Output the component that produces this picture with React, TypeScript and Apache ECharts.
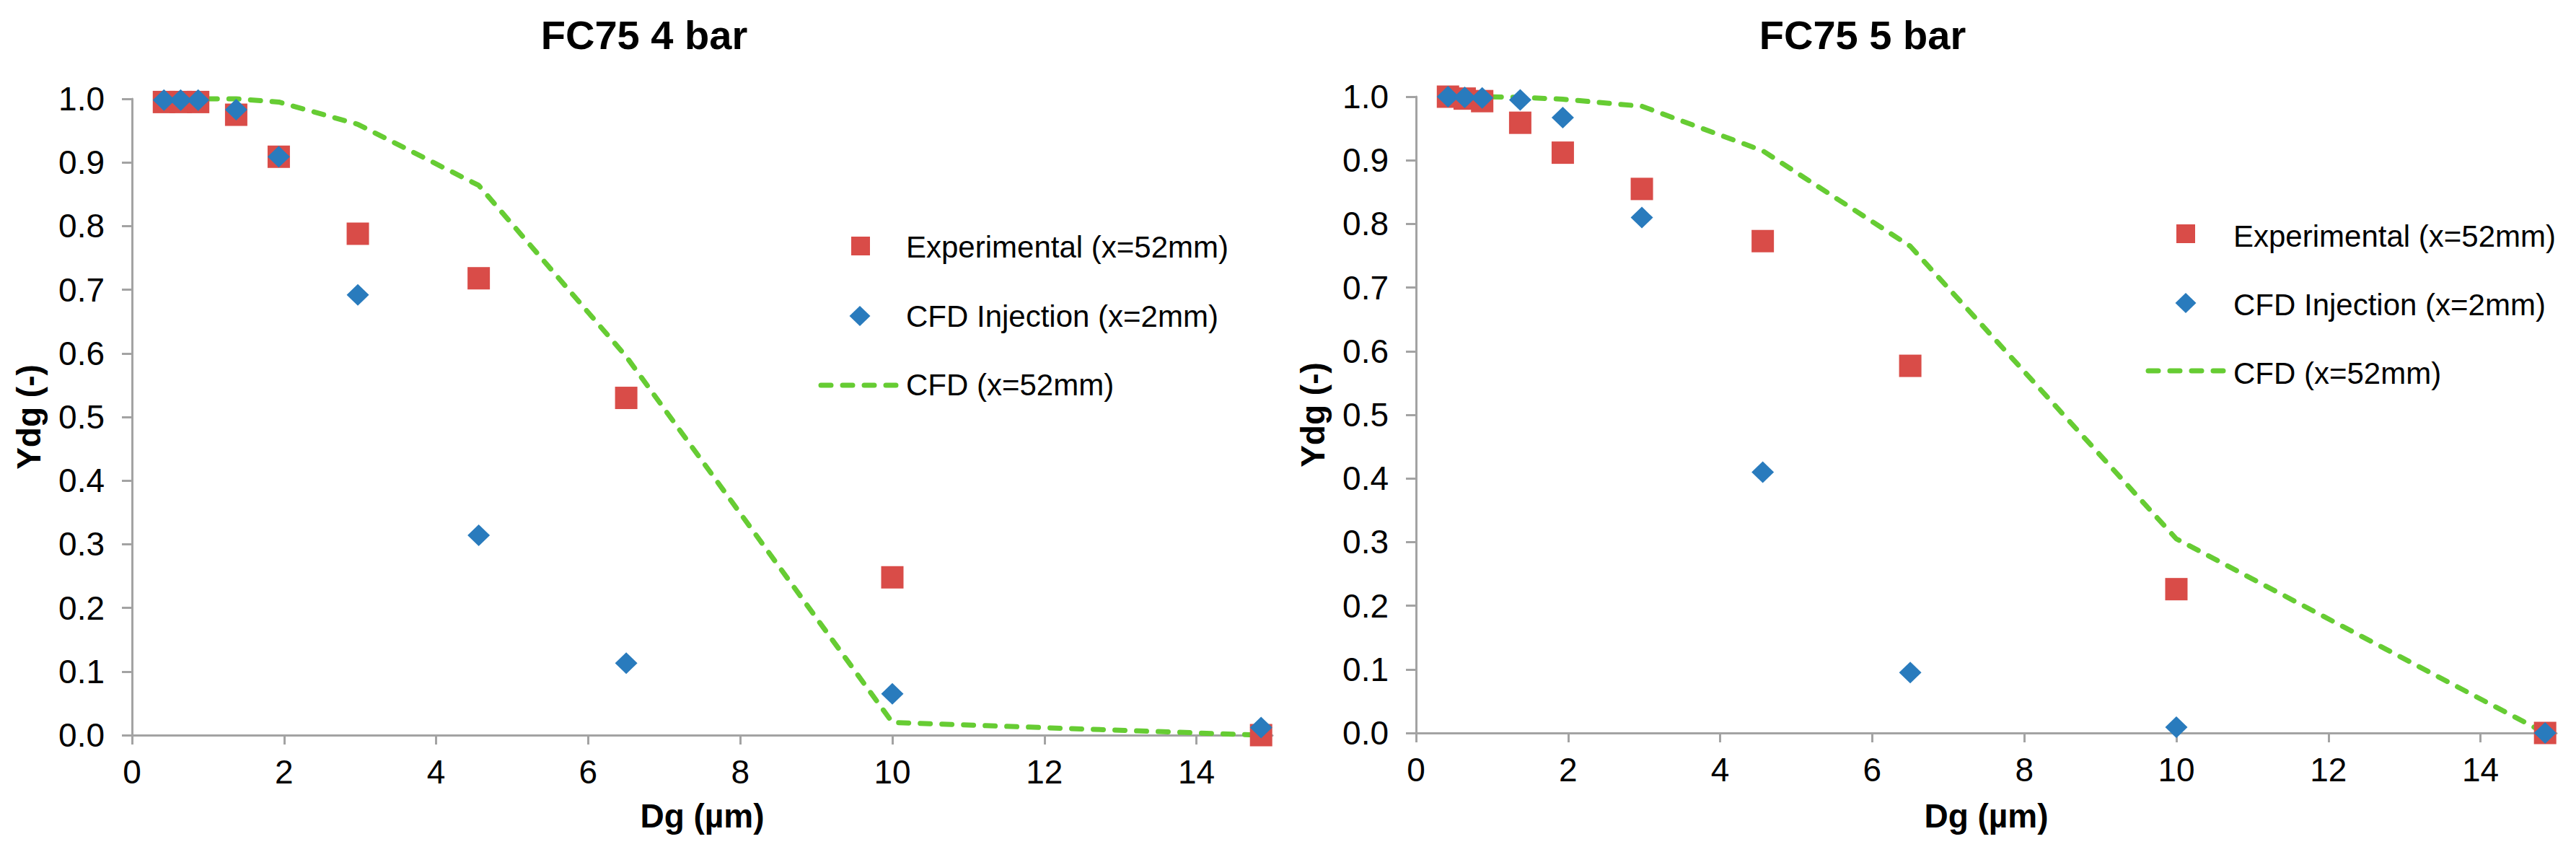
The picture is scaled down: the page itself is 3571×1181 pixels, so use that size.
import React, { useEffect, useRef } from "react";
import * as echarts from "echarts";

// Droplet diameter Dg (µm)
const DG = [0.42, 0.64, 0.87, 1.37, 1.93, 2.97, 4.56, 6.5, 10.0, 14.85];

// FC75 4 bar
const EXP_4 = [0.995, 0.995, 0.995, 0.975, 0.909, 0.788, 0.718, 0.53, 0.248, 0.0];
const INJ_4 = [0.998, 0.998, 0.998, 0.983, 0.909, 0.692, 0.314, 0.113, 0.065, 0.012];
const CFD_4 = [1.0, 1.0, 1.0, 1.0, 0.995, 0.96, 0.864, 0.595, 0.02, 0.0];

// FC75 5 bar
const EXP_5 = [1.0, 0.997, 0.993, 0.959, 0.912, 0.855, 0.773, 0.577, 0.226, 0.0];
const INJ_5 = [1.0, 0.999, 0.998, 0.995, 0.967, 0.81, 0.41, 0.095, 0.009, 0.0];
const CFD_5 = [1.0, 1.0, 1.0, 0.999, 0.996, 0.985, 0.915, 0.765, 0.305, 0.0];

const X_TICKS = [0, 2, 4, 6, 8, 10, 12, 14];
const TITLES = ["FC75 4 bar", "FC75 5 bar"];
const SERIES_NAMES = ["Experimental (x=52mm)", "CFD Injection (x=2mm)", "CFD (x=52mm)"];
const X_NAME = "Dg (µm)";
const Y_NAME = "Ydg (-)";

const RED = "#D94C48";
const BLUE = "#297BBD";
const GREEN = "#66CC33";
const AXIS_GRAY = "#A3A3A3";
const FONT = "'Liberation Sans', Arial, sans-serif";

const pair = (xs: number[], ys: number[]) => xs.map((x, i) => [x, ys[i]]);

export default function App() {
  const ref = useRef<HTMLDivElement>(null);

  useEffect(() => {
    if (!ref.current) return;
    const chart = echarts.init(ref.current, undefined, { renderer: "svg" });

    const grids = [
      { left: 183, top: 137, width: 1581, height: 882 },
      { left: 1963, top: 134, width: 1581, height: 882 },
    ];

    const xAxes = grids.map((_, i) => ({
      type: "value" as const,
      gridIndex: i,
      min: 0,
      max: 15,
      interval: 2,
      splitLine: { show: false },
      axisLine: { show: true, onZero: false, lineStyle: { color: AXIS_GRAY, width: 3 } },
      axisTick: { show: true, length: 13, lineStyle: { color: AXIS_GRAY, width: 3 }, customValues: X_TICKS },
      axisLabel: {
        color: "#000",
        fontFamily: FONT,
        fontSize: 46,
        margin: 28,
        customValues: X_TICKS,
      },
    }));

    const yAxes = grids.map((_, i) => ({
      type: "value" as const,
      gridIndex: i,
      min: 0,
      max: 1,
      interval: 0.1,
      splitLine: { show: false },
      axisLine: { show: true, lineStyle: { color: AXIS_GRAY, width: 3 } },
      axisTick: { show: true, length: 14, lineStyle: { color: AXIS_GRAY, width: 3 } },
      axisLabel: {
        color: "#000",
        fontFamily: FONT,
        fontSize: 46,
        margin: 38,
        formatter: (v: number) => v.toFixed(1),
      },
    }));

    const dataSets = [
      { exp: EXP_4, inj: INJ_4, cfd: CFD_4 },
      { exp: EXP_5, inj: INJ_5, cfd: CFD_5 },
    ];

    const series: any[] = [];
    dataSets.forEach((d, i) => {
      series.push({
        name: SERIES_NAMES[2],
        type: "line",
        xAxisIndex: i,
        yAxisIndex: i,
        data: pair(DG, d.cfd),
        showSymbol: false,
        symbol: "none",
        clip: false,
        z: 1,
        lineStyle: { color: GREEN, width: 7, type: [14, 16], cap: "round" },
      });
      series.push({
        name: SERIES_NAMES[0],
        type: "scatter",
        xAxisIndex: i,
        yAxisIndex: i,
        data: pair(DG, d.exp),
        symbol: "rect",
        symbolSize: 31,
        clip: false,
        z: 2,
        itemStyle: { color: RED, opacity: 1 },
      });
      series.push({
        name: SERIES_NAMES[1],
        type: "scatter",
        xAxisIndex: i,
        yAxisIndex: i,
        data: pair(DG, d.inj),
        symbol: "diamond",
        symbolSize: [31, 30],
        clip: false,
        z: 3,
        itemStyle: { color: BLUE, opacity: 1 },
      });
    });

    const textStyle = (size: number, weight: string) => ({
      fill: "#000",
      font: `${weight} ${size}px ${FONT}`,
    });

    const legend = (
      sq: [number, number],
      dm: [number, number],
      ln: [number, number, number],
      tx: number,
      rows: number[]
    ) => [
      {
        type: "rect",
        shape: { x: sq[0] - 13, y: sq[1] - 13, width: 26, height: 26 },
        style: { fill: RED },
      },
      {
        type: "polygon",
        shape: {
          points: [
            [dm[0], dm[1] - 14],
            [dm[0] + 14.5, dm[1]],
            [dm[0], dm[1] + 14],
            [dm[0] - 14.5, dm[1]],
          ],
        },
        style: { fill: BLUE },
      },
      {
        type: "line",
        shape: { x1: ln[0], y1: ln[2], x2: ln[1], y2: ln[2] },
        style: { stroke: GREEN, lineWidth: 7, lineDash: [14, 16], lineCap: "round" },
      },
      ...SERIES_NAMES.map((n, k) => ({
        type: "text",
        x: tx,
        y: rows[k],
        style: { text: n, ...textStyle(42, "normal"), align: "left", verticalAlign: "middle" },
      })),
    ];

    const graphics: any[] = [];
    const offs = [0, 1780];
    const titleX = [893, 2582];
    grids.forEach((g, i) => {
      graphics.push({
        type: "text",
        x: titleX[i],
        y: 48,
        style: { text: TITLES[i], ...textStyle(56, "bold"), align: "center", verticalAlign: "middle" },
      });
      graphics.push({
        type: "text",
        x: g.left + g.width / 2,
        y: 1131,
        style: { text: X_NAME, ...textStyle(46, "bold"), align: "center", verticalAlign: "middle" },
      });
      graphics.push({
        type: "text",
        x: 40 + offs[i],
        y: g.top + g.height / 2,
        rotation: Math.PI / 2,
        style: { text: Y_NAME, ...textStyle(46, "bold"), align: "center", verticalAlign: "middle" },
      });
    });
    graphics.push(...legend([1193, 341], [1192, 438], [1138, 1244, 534], 1256, [342, 438, 533]));
    graphics.push(...legend([3030, 324], [3030, 420], [2978, 3085, 514], 3096, [327, 422, 517]));

    chart.setOption({
      animation: false,
      backgroundColor: "#fff",
      grid: grids.map((g) => ({ ...g, containLabel: false })),
      xAxis: xAxes,
      yAxis: yAxes,
      series,
      graphic: graphics,
    });

    return () => chart.dispose();
  }, []);

  return (
    <div
      ref={ref}
      style={{ position: "fixed", left: 0, top: 0, width: 3571, height: 1181, background: "#fff" }}
    />
  );
}
